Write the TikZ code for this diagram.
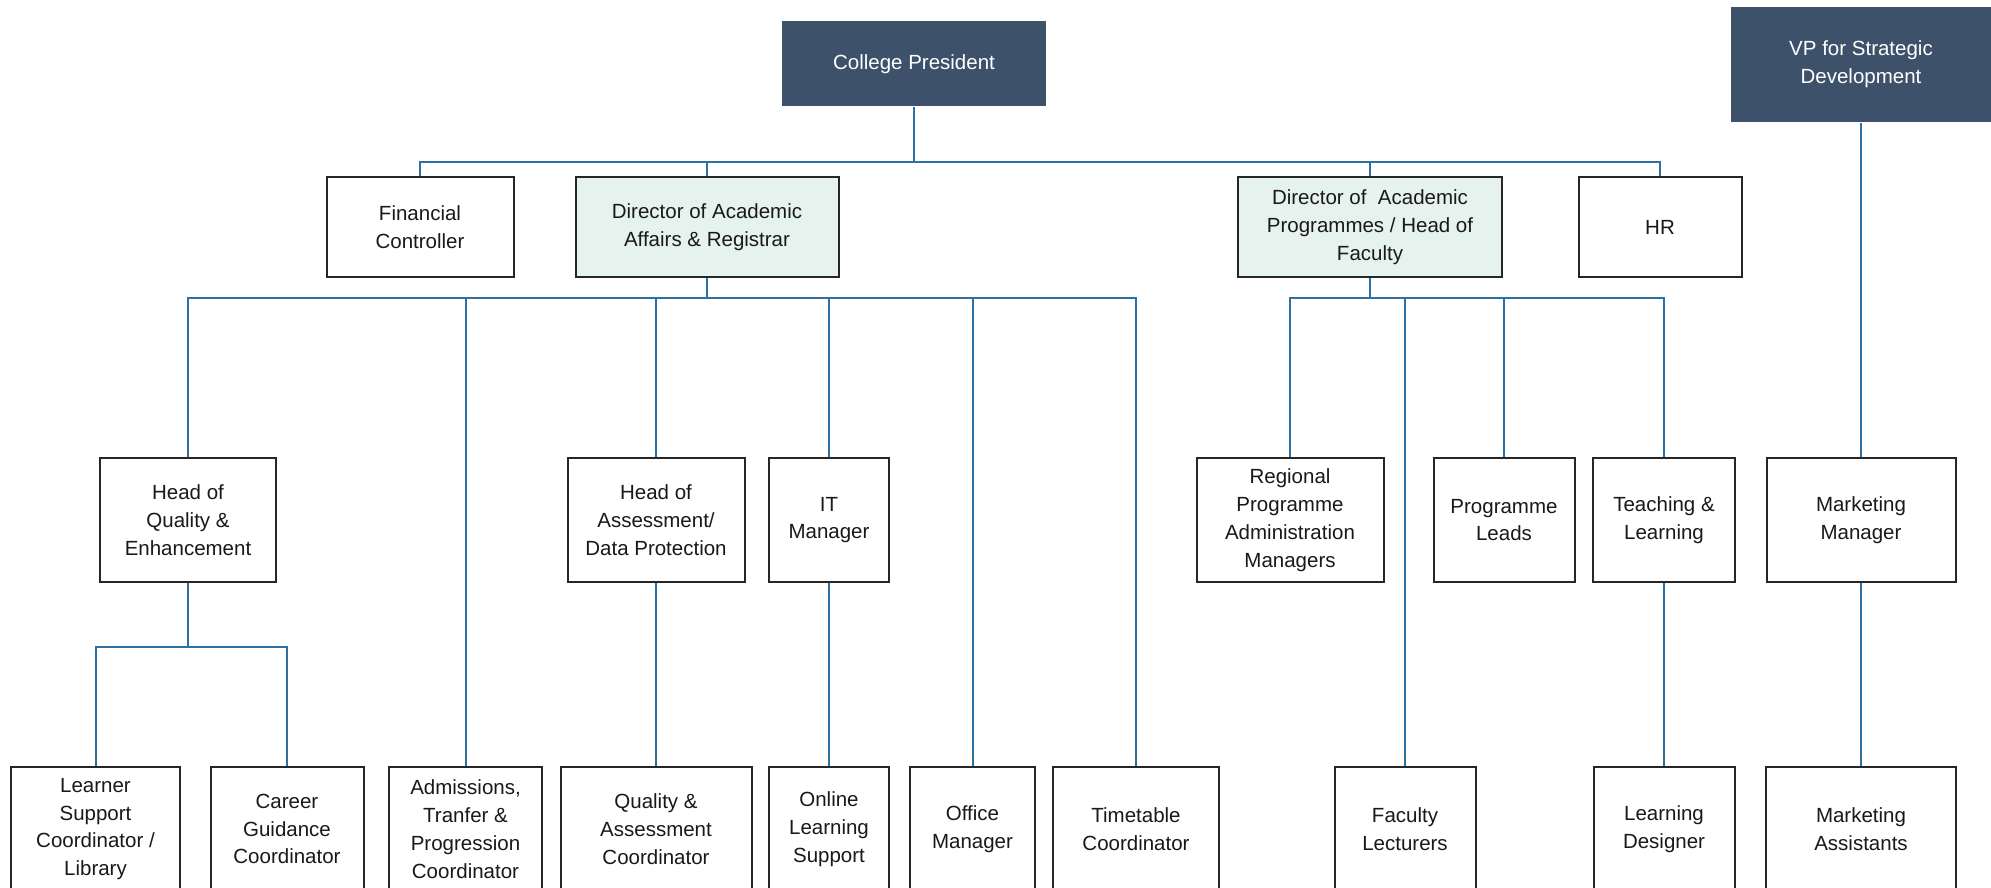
\documentclass[tikz,border=0pt]{standalone}
\usepackage{fontspec}
\setmainfont{Liberation Sans}
\definecolor{navy}{RGB}{61,81,106}
\definecolor{paleg}{RGB}{230,242,237}
\definecolor{linkblue}{RGB}{47,112,163}
\tikzset{
  box/.style={draw=black!85, line width=2pt, fill=white, align=center, inner sep=2pt,
    minimum height=124pt, text=black!90, font=\fontsize{20.5}{27.8}\selectfont},
  topbox/.style={box, minimum height=100pt},
  dirbox/.style={topbox, fill=paleg},
  headbox/.style={box, draw=none, fill=navy, text=white},
  link/.style={draw=linkblue, line width=2pt}
}
\begin{document}
\begin{tikzpicture}[x=1pt, y=-1pt]
  \path[fill=white, use as bounding box] (0,0) rectangle (1991,888);

  % heads
  \node[headbox, minimum width=264pt, minimum height=85pt] (pres) at (914,64) {College President};
  \node[headbox, minimum width=260pt, minimum height=115pt] (vp) at (1861,64.5) {VP for Strategic\\Development};

  % second row
  \node[topbox, minimum width=187pt] (fin) at (420,227) {Financial\\Controller};
  \node[dirbox, minimum width=263pt] (daa) at (707,227) {Director of Academic\\Affairs \& Registrar};
  \node[dirbox, minimum width=264pt] (dap) at (1370,227) {Director of~ Academic\\Programmes / Head of\\Faculty};
  \node[topbox, minimum width=163pt] (hr) at (1660,227) {HR};

  % third row
  \node[box, minimum width=176pt] (hqe) at (188,520) {Head of\\Quality \&\\Enhancement};
  \node[box, minimum width=177pt] (had) at (656,520) {Head of\\Assessment/\\Data Protection};
  \node[box, minimum width=120pt] (itm) at (829,520) {IT\\Manager};
  \node[box, minimum width=187pt] (rpam) at (1290,520) {Regional\\Programme\\Administration\\Managers};
  \node[box, minimum width=141pt] (pl) at (1504,520) {Programme\\Leads};
  \node[box, minimum width=142pt] (tl) at (1664,520) {Teaching \&\\Learning};
  \node[box, minimum width=189pt] (mm) at (1861,520) {Marketing\\Manager};

  % bottom row
  \node[box, minimum width=169pt] (lsc) at (95.5,829) {Learner\\Support\\Coordinator /\\Library};
  \node[box, minimum width=153pt] (cgc) at (287,829) {Career\\Guidance\\Coordinator};
  \node[box, minimum width=153pt] (atp) at (465.5,829) {Admissions,\\Tranfer \&\\Progression\\Coordinator};
  \node[box, minimum width=191pt] (qac) at (656,829) {Quality \&\\Assessment\\Coordinator};
  \node[box, minimum width=120pt] (ols) at (829,829) {Online\\Learning\\Support};
  \node[box, minimum width=125pt] (ofm) at (972.5,829) {Office\\Manager};
  \node[box, minimum width=166pt] (ttc) at (1136,829) {Timetable\\Coordinator};
  \node[box, minimum width=141pt] (fac) at (1405,829) {Faculty\\Lecturers};
  \node[box, minimum width=141pt] (ld) at (1664,829) {Learning\\Designer};
  \node[box, minimum width=190pt] (ma) at (1861,829) {Marketing\\Assistants};

  % connectors
  \coordinate (b1) at (914,162);
  \coordinate (b2) at (707,298);
  \coordinate (b3) at (1370,298);
  \coordinate (b4) at (188,647);
  \draw[link] (pres.south) -- (b1);
  \foreach \n in {fin,daa,dap,hr} \draw[link] (\n.north) |- (b1);
  \draw[link] (daa.south) -- (b2);
  \foreach \n in {hqe,atp,had,itm,ofm,ttc} \draw[link] (\n.north) |- (b2);
  \draw[link] (dap.south) -- (b3);
  \foreach \n in {rpam,fac,pl,tl} \draw[link] (\n.north) |- (b3);
  \draw[link] (hqe.south) -- (b4);
  \foreach \n in {lsc,cgc} \draw[link] (\n.north) |- (b4);
  \draw[link] (had) -- (qac);
  \draw[link] (itm) -- (ols);
  \draw[link] (tl) -- (ld);
  \draw[link] (vp) -- (mm);
  \draw[link] (mm) -- (ma);
\end{tikzpicture}
\end{document}
